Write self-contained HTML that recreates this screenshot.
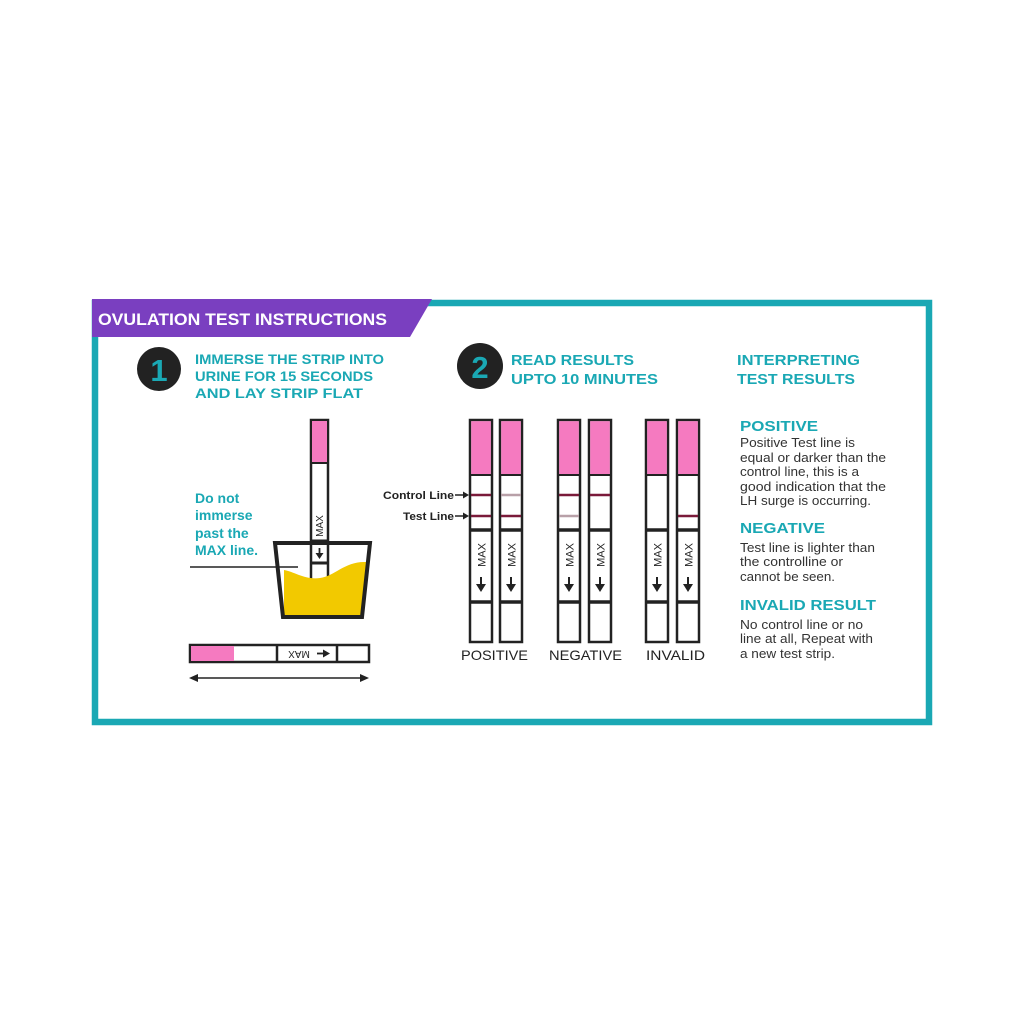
<!DOCTYPE html>
<html><head><meta charset="utf-8"><style>
html,body{margin:0;padding:0;background:#fff;}
svg{display:block;}
text{font-family:"Liberation Sans",sans-serif;}
</style></head><body>
<svg width="1024" height="1024" viewBox="0 0 1024 1024" xmlns="http://www.w3.org/2000/svg">
<defs>
<g id="vstrip">
  <rect x="0" y="0" width="22" height="222" fill="#fff" stroke="#222" stroke-width="2.5"/>
  <rect x="1.2" y="1.2" width="19.6" height="54" fill="#f57ac0"/>
  <line x1="0" y1="55" x2="22" y2="55" stroke="#222" stroke-width="2"/>
  <line x1="0" y1="110" x2="22" y2="110" stroke="#222" stroke-width="3.5"/>
  <line x1="0" y1="182" x2="22" y2="182" stroke="#222" stroke-width="3.5"/>
  <text x="0" y="0" transform="translate(15.5,135) rotate(-90)" font-size="11" text-anchor="middle" fill="#222">MAX</text>
  <line x1="11" y1="157" x2="11" y2="166" stroke="#222" stroke-width="2"/>
  <polygon points="6,164 16,164 11,172" fill="#222"/>
</g>
</defs>

<!-- frame -->
<rect x="95" y="303" width="834" height="419" fill="none" stroke="#1aa8b4" stroke-width="6.5"/>
<polygon points="92,299 432,299 410,337 92,337" fill="#7a3fc0"/>
<text x="98" y="325" font-size="16.5" font-weight="bold" fill="#fff" textLength="289" lengthAdjust="spacingAndGlyphs">OVULATION TEST INSTRUCTIONS</text>

<!-- step 1 -->
<circle cx="159" cy="369" r="22" fill="#222"/>
<text x="159" y="381" font-size="31" font-weight="bold" fill="#1aa8b4" text-anchor="middle">1</text>
<g font-size="14" font-weight="bold" fill="#1aa8b4">
<text x="195" y="364" textLength="189" lengthAdjust="spacingAndGlyphs">IMMERSE THE STRIP INTO</text>
<text x="195" y="381" textLength="178" lengthAdjust="spacingAndGlyphs">URINE FOR 15 SECONDS</text>
<text x="195" y="398" textLength="168" lengthAdjust="spacingAndGlyphs">AND LAY STRIP FLAT</text>
</g>
<g font-size="14" font-weight="bold" fill="#1aa8b4">
<text x="195" y="503">Do not</text>
<text x="195" y="520">immerse</text>
<text x="195" y="538">past the</text>
<text x="195" y="555">MAX line.</text>
</g>
<!-- strip in cup -->
<rect x="311" y="420" width="17" height="160" fill="#fff" stroke="#222" stroke-width="2.5"/>
<rect x="312" y="421" width="15" height="42" fill="#f57ac0"/>
<line x1="311" y1="463" x2="328" y2="463" stroke="#222" stroke-width="2"/>
<line x1="311" y1="541" x2="328" y2="541" stroke="#222" stroke-width="3"/>
<line x1="311" y1="563" x2="328" y2="563" stroke="#222" stroke-width="3"/>
<text transform="translate(323,526) rotate(-90)" font-size="10" text-anchor="middle" fill="#222">MAX</text>
<line x1="319.5" y1="548" x2="319.5" y2="554" stroke="#222" stroke-width="1.8"/>
<polygon points="315.5,553 323.5,553 319.5,559" fill="#222"/>
<!-- liquid -->
<path d="M284,570 C295,572 305,580 320,578 C335,576 345,561 366,562 L362,615 L284,615 Z" fill="#f2c900"/>
<polygon points="275,543 370,543 362,617 283,617" fill="none" stroke="#222" stroke-width="4" stroke-linejoin="miter"/>
<line x1="190" y1="567" x2="298" y2="567" stroke="#222" stroke-width="1.5"/>

<!-- horizontal strip -->
<rect x="190" y="645" width="179" height="17" fill="#fff" stroke="#222" stroke-width="2.5"/>
<rect x="191" y="646" width="43" height="15" fill="#f57ac0"/>
<line x1="277" y1="645" x2="277" y2="662" stroke="#222" stroke-width="2.5"/>
<line x1="337" y1="645" x2="337" y2="662" stroke="#222" stroke-width="2.5"/>
<text transform="translate(299,653.5) rotate(180)" font-size="10" text-anchor="middle" dominant-baseline="middle" fill="#222">MAX</text>
<line x1="317" y1="653.5" x2="325" y2="653.5" stroke="#222" stroke-width="1.8"/>
<polygon points="323,649.5 323,657.5 330,653.5" fill="#222"/>
<line x1="196" y1="678" x2="361" y2="678" stroke="#222" stroke-width="1.5"/>
<polygon points="189,678 198,674 198,682" fill="#222"/>
<polygon points="369,678 360,674 360,682" fill="#222"/>

<!-- step 2 -->
<circle cx="480" cy="366" r="23" fill="#222"/>
<text x="480" y="378" font-size="31" font-weight="bold" fill="#1aa8b4" text-anchor="middle">2</text>
<g font-size="14.5" font-weight="bold" fill="#1aa8b4">
<text x="511" y="365" textLength="123" lengthAdjust="spacingAndGlyphs">READ RESULTS</text>
<text x="511" y="384" textLength="147" lengthAdjust="spacingAndGlyphs">UPTO 10 MINUTES</text>
</g>

<use href="#vstrip" x="470" y="420"/>
<use href="#vstrip" x="500" y="420"/>
<use href="#vstrip" x="558" y="420"/>
<use href="#vstrip" x="589" y="420"/>
<use href="#vstrip" x="646" y="420"/>
<use href="#vstrip" x="677" y="420"/>
<!-- result lines -->
<g stroke-width="2.5">
<line x1="471" y1="495" x2="491" y2="495" stroke="#7a1a3a"/>
<line x1="471" y1="516" x2="491" y2="516" stroke="#7a1a3a"/>
<line x1="501" y1="495" x2="521" y2="495" stroke="#b8a0a8"/>
<line x1="501" y1="516" x2="521" y2="516" stroke="#7a1a3a"/>
<line x1="559" y1="495" x2="579" y2="495" stroke="#7a1a3a"/>
<line x1="559" y1="516" x2="579" y2="516" stroke="#b8a0a8"/>
<line x1="590" y1="495" x2="610" y2="495" stroke="#7a1a3a"/>
<line x1="678" y1="516" x2="698" y2="516" stroke="#7a1a3a"/>
</g>
<g font-size="11" font-weight="bold" fill="#222">
<text x="383" y="499" textLength="71" lengthAdjust="spacingAndGlyphs">Control Line</text>
<text x="403" y="520" textLength="51" lengthAdjust="spacingAndGlyphs">Test Line</text>
</g>
<line x1="455" y1="495" x2="464" y2="495" stroke="#222" stroke-width="1.5"/>
<polygon points="469,495 463,491.5 463,498.5" fill="#222"/>
<line x1="455" y1="516" x2="464" y2="516" stroke="#222" stroke-width="1.5"/>
<polygon points="469,516 463,512.5 463,519.5" fill="#222"/>
<g font-size="14" fill="#222">
<text x="461" y="660" textLength="67" lengthAdjust="spacingAndGlyphs">POSITIVE</text>
<text x="549" y="660" textLength="73" lengthAdjust="spacingAndGlyphs">NEGATIVE</text>
<text x="646" y="660" textLength="59" lengthAdjust="spacingAndGlyphs">INVALID</text>
</g>

<!-- interpreting -->
<g font-size="14.5" font-weight="bold" fill="#1aa8b4">
<text x="737" y="365" textLength="123" lengthAdjust="spacingAndGlyphs">INTERPRETING</text>
<text x="737" y="384" textLength="118" lengthAdjust="spacingAndGlyphs">TEST RESULTS</text>
<text x="740" y="431" font-size="15" textLength="78" lengthAdjust="spacingAndGlyphs">POSITIVE</text>
<text x="740" y="533" font-size="15" textLength="85" lengthAdjust="spacingAndGlyphs">NEGATIVE</text>
<text x="740" y="610" font-size="15" textLength="136" lengthAdjust="spacingAndGlyphs">INVALID RESULT</text>
</g>
<g font-size="12.5" fill="#333">
<text x="740" y="447" textLength="115" lengthAdjust="spacingAndGlyphs">Positive Test line is</text>
<text x="740" y="462" textLength="146" lengthAdjust="spacingAndGlyphs">equal or darker than the</text>
<text x="740" y="476" textLength="119" lengthAdjust="spacingAndGlyphs">control line, this is a</text>
<text x="740" y="491" textLength="146" lengthAdjust="spacingAndGlyphs">good indication that the</text>
<text x="740" y="505" textLength="131" lengthAdjust="spacingAndGlyphs">LH surge is occurring.</text>
<text x="740" y="552" textLength="135" lengthAdjust="spacingAndGlyphs">Test line is lighter than</text>
<text x="740" y="566" textLength="103" lengthAdjust="spacingAndGlyphs">the controlline or</text>
<text x="740" y="581" textLength="95" lengthAdjust="spacingAndGlyphs">cannot be seen.</text>
<text x="740" y="629" textLength="123" lengthAdjust="spacingAndGlyphs">No control line or no</text>
<text x="740" y="643" textLength="133" lengthAdjust="spacingAndGlyphs">line at all, Repeat with</text>
<text x="740" y="658" textLength="95" lengthAdjust="spacingAndGlyphs">a new test strip.</text>
</g>
</svg>
</body></html>
